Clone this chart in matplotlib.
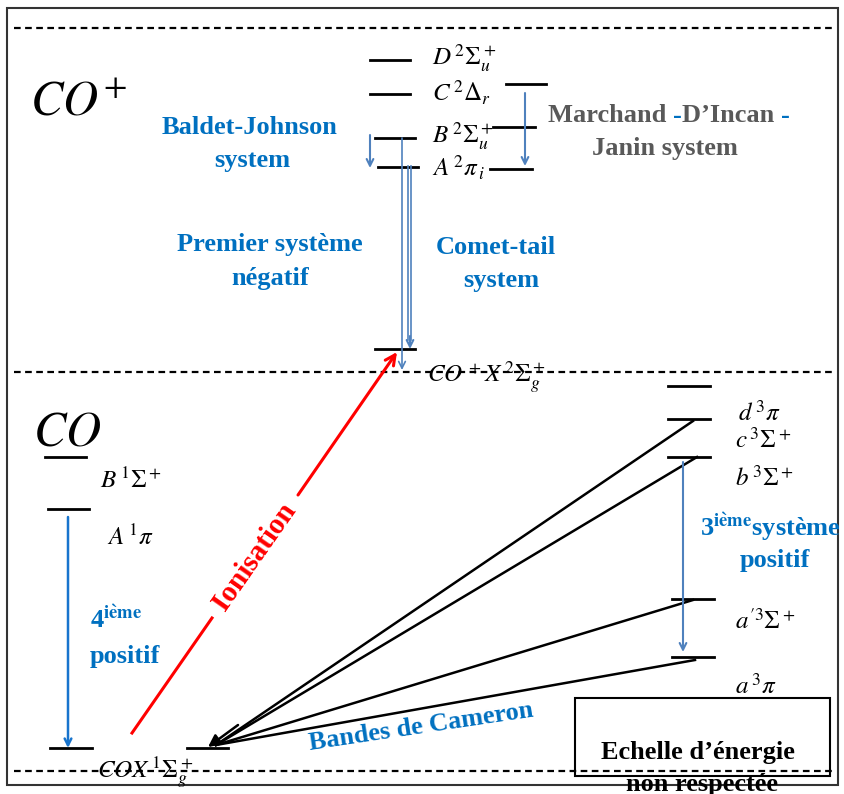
import matplotlib
matplotlib.use("Agg")
import matplotlib.pyplot as plt
from matplotlib.patches import Rectangle

plt.rcParams['font.family'] = ['Liberation Serif', 'DejaVu Serif']
plt.rcParams['mathtext.fontset'] = 'stix'

# niveaux CO+ (x debut, x fin, y)
ion_levels_x0 = [370, 370, 375, 378, 375, 506, 493, 490]
ion_levels_x1 = [410, 410, 415, 418, 415, 546, 535, 532]
ion_levels_y = [60, 94, 138, 167, 349, 84, 127, 169]
ion_labels = [r'$D^{\,2}\Sigma_u^+$', r'$C^{\,2}\Delta_r$', r'$B^{\,2}\Sigma_u^+$',
              r'$A^{\,2}\pi_{\,i}$', r'$CO^{\,+}X^{\,2}\Sigma_g^+$']
ion_label_xy = [(432, 58), (432, 93), (432, 136), (432, 168), (427, 377)]

# niveaux CO
co_levels_x0 = [45, 48, 50, 187, 668, 668, 668, 672, 672]
co_levels_x1 = [86, 89, 92, 228, 710, 710, 710, 714, 714]
co_levels_y = [457, 509, 748, 748, 386, 419, 457, 599, 657]
co_labels = [r'$B^{\,1}\Sigma^+$', r'$A^{\,1}\pi$', r'$COX^{\,1}\Sigma_g^+$',
             r'$d^{\,3}\pi$', r'$c^{\,3}\Sigma^+$', r'$b^{\,3}\Sigma^+$',
             r"$a^{\prime 3}\Sigma^+$", r'$a^{\,3}\pi$']
co_label_xy = [(100, 480), (107, 537), (97, 773), (738, 413), (735, 440),
               (735, 478), (735, 621), (735, 686)]

# transitions de Cameron / triplets vers X (x, y de depart)
cam_x = [693, 697, 693, 695]
cam_y = [421, 457, 600, 660]
cam_end = (208, 747)

blue = '#0070C0'
steel = '#4F81BD'
grey = '#595959'
fs = 19

fig = plt.figure(figsize=(8.45, 7.94), dpi=100)
ax = fig.add_axes([0, 0, 1, 1])
ax.set_xlim(0, 845)
ax.set_ylim(794, 0)
ax.axis('off')

# cadre et pointilles
ax.add_patch(Rectangle((7, 8), 831, 777, fill=False, ec='#333333', lw=1.5))
for yd in [28, 372, 771]:
    ax.plot([14, 834], [yd, yd], color='black', lw=1.6, ls=(0, (3, 2)))

# niveaux
for x0, x1, y in zip(ion_levels_x0, ion_levels_x1, ion_levels_y):
    ax.plot([x0, x1], [y, y], color='black', lw=2)
for x0, x1, y in zip(co_levels_x0, co_levels_x1, co_levels_y):
    ax.plot([x0, x1], [y, y], color='black', lw=2)

for lab, (x, y) in zip(ion_labels, ion_label_xy):
    ax.text(x, y, lab, fontsize=18, va='center', ha='left')
for lab, (x, y) in zip(co_labels, co_label_xy):
    ax.text(x, y, lab, fontsize=18, va='center', ha='left')

ax.text(30, 103, r'$CO^{+}$', fontsize=35, va='center', ha='left')
ax.text(33, 433, r'$CO$', fontsize=35, va='center', ha='left')

# fleches bleues CO+
def down(x, y0, y1, color, lw=1.5, ms=12):
    ax.annotate('', xy=(x, y1), xytext=(x, y0),
                arrowprops=dict(arrowstyle='->', color=color, lw=lw,
                                mutation_scale=ms, shrinkA=0, shrinkB=0))

down(370, 135, 168, steel)
down(525, 93, 166, steel)
down(402, 138, 370, steel, lw=1.2)
ax.plot([408.5, 408.5], [166, 340], color=steel, lw=1.2)
ax.plot([411.5, 411.5], [166, 340], color=steel, lw=1.2)
down(410, 336, 349, steel, lw=1.5)
down(683, 462, 652, steel)
down(68, 517, 748, '#1874CD', lw=1.8)

# ionisation
ax.plot([132, 212], [733, 618], color='red', lw=2.2)
ax.annotate('', xy=(397, 352), xytext=(298, 495),
            arrowprops=dict(arrowstyle='->', color='red', lw=2.2,
                            mutation_scale=18, shrinkA=0, shrinkB=0))
ax.text(255, 557, 'Ionisation', color='red', fontsize=21, fontweight='bold',
        rotation=55, ha='center', va='center', rotation_mode='anchor')

# bandes de Cameron
for x, y in zip(cam_x, cam_y):
    ax.plot([x, cam_end[0] + 8], [y, cam_end[1] - 2], color='black', lw=1.8)
ax.annotate('', xy=cam_end, xytext=(cam_end[0] + 30, cam_end[1] - 22),
            arrowprops=dict(arrowstyle='-|>', color='black', lw=1.8,
                            mutation_scale=18, shrinkA=0, shrinkB=0))
ax.text(421, 727, 'Bandes de Cameron', color=blue, fontsize=fs, fontweight='bold',
        rotation=8.5, ha='center', va='center', rotation_mode='anchor')

# textes bleus
def btxt(x, y, s, color=blue, ha='center', size=fs):
    return ax.text(x, y, s, color=color, fontsize=size, fontweight='bold',
                   ha=ha, va='center')

btxt(250, 127, 'Baldet-Johnson')
btxt(252, 160, 'system')
btxt(270, 245, 'Premier système')
btxt(270, 278, 'négatif')
btxt(496, 248, 'Comet-tail')
btxt(501, 281, 'system')

# Marchand -D'Incan - (morceaux enchaines)
renderer = fig.canvas.get_renderer()
xc = 548
for piece, col in [('Marchand ', grey), ('-', blue), ('D\u2019Incan ', grey), ('-', blue)]:
    t = btxt(xc, 116, piece, color=col, ha='left')
    bb = t.get_window_extent(renderer).transformed(ax.transData.inverted())
    xc = max(bb.x0, bb.x1)
btxt(665, 148, 'Janin system', color=grey)

btxt(700, 527, r'3$^{\mathbf{i\grave{e}me}}$système', ha='left')
btxt(775, 561, 'positif')
btxt(90, 620, r'4$^{\mathbf{i\grave{e}me}}$', ha='left')
btxt(90, 657, 'positif', ha='left')

# encadre echelle
ax.add_patch(Rectangle((575, 698), 255, 78, fill=False, ec='black', lw=1.5))
btxt(698, 752, 'Echelle d\u2019énergie', color='black')
btxt(702, 785, 'non respectée', color='black')

fig.savefig('out.png', dpi=100)
